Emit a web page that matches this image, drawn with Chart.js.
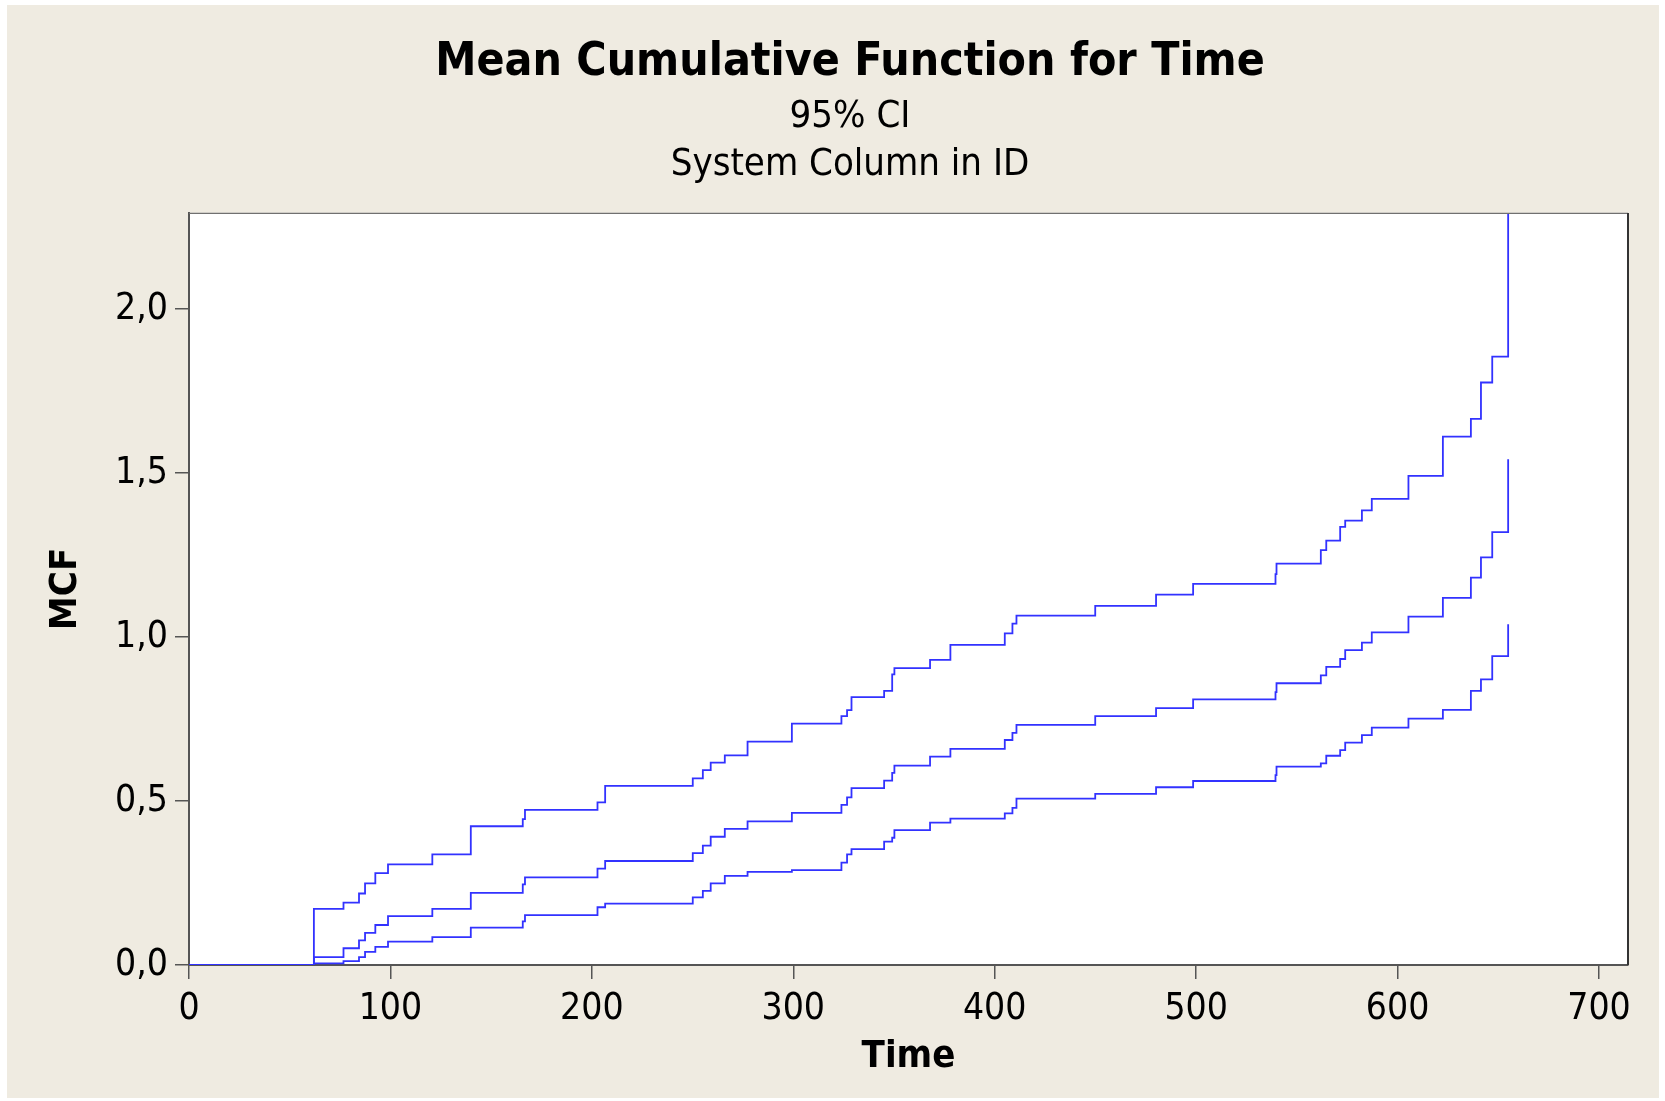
<!DOCTYPE html>
<html>
<head>
<meta charset="utf-8">
<title>Mean Cumulative Function for Time</title>
<script src="https://cdn.jsdelivr.net/npm/chart.js@4.4.1/dist/chart.umd.min.js"></script>
<style>
    html, body { margin: 0; padding: 0; background: #ffffff; }
    #frame { position: absolute; left: 7px; top: 5px; width: 1652px; height: 1093px; background: #efebe1; }
    #wrap { position: absolute; left: 0; top: 0; width: 1665px; height: 1101px; }
</style>
</head>
<body>
<div id="frame"></div>
<div id="wrap"><canvas id="chart" width="1665" height="1101"></canvas></div>
<script>
// Failure times where the MCF steps up
const eventTimes = [62, 76.7, 84.4, 87.4, 92.5, 98.8, 120.8, 139.9, 165.7, 166.8,
    202.8, 206.6, 250.1, 255.1, 259.0, 266.0, 277.3, 299.3, 323.9, 326.7,
    328.9, 345.1, 349.1, 350.2, 367.9, 378.0, 405.0, 408.8, 410.8, 449.9,
    480.1, 498.5, 539.4, 539.9, 561.9, 564.6, 571.5, 574.0, 582.3, 587.2,
    605.4, 622.5, 636.4, 641.4, 647.0, 654.9];

// Upper 95% CI
const upperCI = [0.171, 0.190, 0.218, 0.249, 0.280, 0.307, 0.337, 0.423, 0.445, 0.473,
    0.496, 0.546, 0.569, 0.594, 0.617, 0.639, 0.681, 0.736, 0.759, 0.777,
    0.817, 0.836, 0.886, 0.905, 0.930, 0.976, 1.011, 1.041, 1.065, 1.095,
    1.129, 1.162, 1.192, 1.224, 1.265, 1.294, 1.336, 1.355, 1.386, 1.421,
    1.491, 1.611, 1.665, 1.776, 1.855, 2.29];

// MCF estimate
const mcfValues = [0.024, 0.051, 0.075, 0.098, 0.122, 0.149, 0.171, 0.220, 0.246, 0.267,
    0.294, 0.317, 0.341, 0.364, 0.391, 0.415, 0.438, 0.464, 0.488, 0.511,
    0.539, 0.562, 0.586, 0.608, 0.635, 0.659, 0.686, 0.708, 0.732, 0.759,
    0.783, 0.810, 0.832, 0.859, 0.883, 0.909, 0.933, 0.960, 0.983, 1.014,
    1.062, 1.119, 1.181, 1.243, 1.320, 1.542];

// Lower 95% CI
const lowerCI = [0.005, 0.012, 0.024, 0.040, 0.055, 0.071, 0.085, 0.114, 0.133, 0.152,
    0.176, 0.187, 0.206, 0.226, 0.249, 0.272, 0.284, 0.289, 0.312, 0.337,
    0.353, 0.376, 0.388, 0.411, 0.434, 0.446, 0.462, 0.479, 0.507, 0.522,
    0.542, 0.561, 0.579, 0.605, 0.615, 0.638, 0.655, 0.678, 0.701, 0.724,
    0.751, 0.778, 0.836, 0.871, 0.942, 1.039];

const xTicks = [0, 100, 200, 300, 400, 500, 600, 700];
const yTicks = [0, 0.5, 1.0, 1.5, 2.0];

// Every curve starts at zero at time zero
function toSteps(values) {
    const points = [{ x: 0, y: 0 }];
    eventTimes.forEach((t, i) => points.push({ x: t, y: values[i] }));
    return points;
}

// White plot area with a frame round it
const plotFrame = {
    id: 'plotFrame',
    beforeDraw(chart) {
        const { ctx, chartArea: a } = chart;
        ctx.save();
        ctx.fillStyle = '#ffffff';
        ctx.fillRect(a.left, a.top, a.right - a.left, a.bottom - a.top);
        ctx.restore();
    },
    afterDraw(chart) {
        const { ctx, chartArea: a } = chart;
        ctx.save();
        ctx.strokeStyle = '#707070';
        ctx.lineWidth = 1.2;
        ctx.beginPath();
        ctx.moveTo(a.left, a.top + 0.5);
        ctx.lineTo(a.right, a.top + 0.5);
        ctx.stroke();
        ctx.strokeStyle = '#333333';
        ctx.lineWidth = 2;
        ctx.beginPath();
        ctx.moveTo(a.right, a.top);
        ctx.lineTo(a.right, a.bottom);
        ctx.stroke();
        ctx.restore();
    }
};

Chart.defaults.font.family = '"DejaVu Sans Condensed", "DejaVu Sans", sans-serif';
Chart.defaults.color = '#000000';

const lineColor = 'rgb(50, 50, 255)';
const axisColor = '#555555';

const ctx = document.getElementById("chart").getContext("2d");
const chart = new Chart(ctx, {
    type: "line",
    data: {
        datasets: [
            { label: "Upper", data: toSteps(upperCI) },
            { label: "MCF", data: toSteps(mcfValues) },
            { label: "Lower", data: toSteps(lowerCI) }
        ].map(ds => Object.assign(ds, {
            borderColor: lineColor,
            borderWidth: 1.8,
            pointRadius: 0,
            stepped: true,
            fill: false
        }))
    },
    options: {
        responsive: false,
        animation: false,
        devicePixelRatio: 1,
        layout: { padding: { left: 72, right: 37, top: 0, bottom: 16 } },
        plugins: {
            legend: { display: false },
            tooltip: { enabled: false },
            title: {
                display: true,
                text: "Mean Cumulative Function for Time",
                font: { size: 46, weight: "bold", lineHeight: 1.15 },
                padding: { top: 37, bottom: 0 }
            },
            subtitle: {
                display: true,
                text: ["95% CI", "System Column in ID"],
                font: { size: 38, weight: "normal", lineHeight: "48px" },
                padding: { top: 3, bottom: 24 }
            }
        },
        scales: {
            x: {
                type: "linear",
                min: 0,
                max: 714.4,
                afterBuildTicks: s => { s.ticks = xTicks.map(v => ({ value: v })); },
                afterFit: s => { s.height = 120; },
                grid: { drawOnChartArea: false, drawTicks: true, tickLength: 14, color: axisColor, lineWidth: 1.5 },
                border: { display: true, color: axisColor, width: 2 },
                ticks: { padding: 8, maxRotation: 0, autoSkip: false, font: { size: 37 } },
                title: {
                    display: true,
                    text: "Time",
                    font: { size: 38, weight: "bold" },
                    padding: { top: 0, bottom: 5 }
                }
            },
            y: {
                min: 0,
                max: 2.293,
                afterBuildTicks: s => { s.ticks = yTicks.map(v => ({ value: v })); },
                afterFit: s => { s.width = 117; },
                grid: { drawOnChartArea: false, drawTicks: true, tickLength: 14, color: axisColor, lineWidth: 1.5 },
                border: { display: true, color: axisColor, width: 2 },
                ticks: {
                    padding: 7,
                    font: { size: 37 },
                    callback: v => v.toFixed(1).replace(".", ",")
                },
                title: {
                    display: true,
                    text: "MCF",
                    font: { size: 38, weight: "bold" },
                    padding: { top: -29, bottom: 0 }
                }
            }
        }
    },
    plugins: [plotFrame]
});
</script>
</body>
</html>
